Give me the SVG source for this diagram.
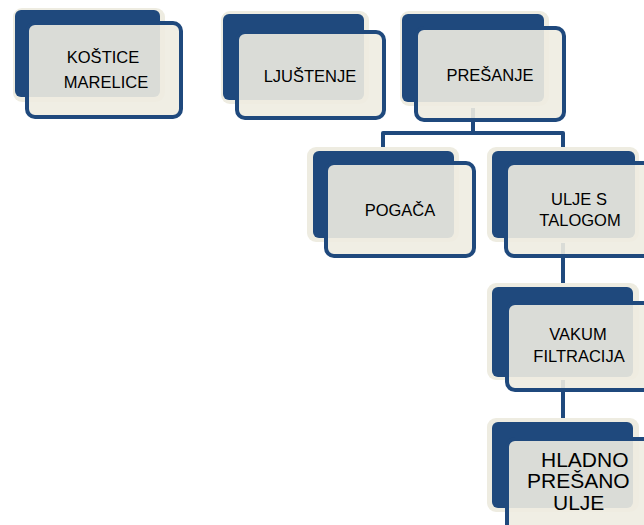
<svg xmlns="http://www.w3.org/2000/svg" width="644" height="525" viewBox="0 0 644 525">
<style>
.bg{fill:#EEECE1}
.back{fill:#1F497D}
.front{fill:#EEECE1;fill-opacity:0.9;stroke:#1F497D;stroke-width:4}
.conn{fill:none;stroke:#1F497D;stroke-width:4;stroke-linejoin:round}
text{font-family:"Liberation Sans",Arial,sans-serif;font-size:16.5px;fill:#000;text-anchor:middle}
.big{font-size:21px;text-anchor:start}
</style>
<rect width="644" height="525" fill="#fff"/>
<g id="connectors">
<path class="conn" d="M473,108 V133 M383,150 V133 H563 V152"/>
<path class="conn" d="M563,243 V290"/>
<path class="conn" d="M563,380 V425"/>
</g>
<g id="n1">
<rect class="bg" x="13" y="8" width="152" height="94" rx="9"/>
<rect class="back" x="15" y="10" width="145" height="87" rx="6"/>
<rect class="front" x="27" y="23" width="154" height="94" rx="8"/>
<text x="103" y="63">KOŠTICE</text>
<text x="106" y="88">MARELICE</text>
</g>
<g id="n2">
<rect class="bg" x="221" y="11" width="148" height="93" rx="9"/>
<rect class="back" x="223" y="14" width="141" height="86" rx="6"/>
<rect class="front" x="237" y="32" width="147" height="86" rx="8"/>
<text x="310" y="82">LJUŠTENJE</text>
</g>
<g id="n3">
<rect class="bg" x="400" y="11" width="149" height="95" rx="9"/>
<rect class="back" x="402" y="14" width="142" height="88" rx="6"/>
<rect class="front" x="416" y="28" width="148" height="92" rx="8"/>
<text x="490" y="81">PREŠANJE</text>
</g>
<g id="n4">
<rect class="bg" x="307" y="147" width="152" height="95" rx="9"/>
<rect class="back" x="313" y="151" width="141" height="87" rx="6"/>
<rect class="front" x="326" y="163" width="148" height="93" rx="8"/>
<text x="400" y="216">POGAČA</text>
</g>
<g id="n5">
<rect class="bg" x="487" y="147" width="152" height="95" rx="9"/>
<rect class="back" x="492" y="151" width="143" height="87" rx="6"/>
<rect class="front" x="506" y="163" width="150" height="93" rx="8"/>
<text x="579" y="205">ULJE S</text>
<text x="580" y="226">TALOGOM</text>
</g>
<g id="n6">
<rect class="bg" x="487" y="283" width="152" height="97" rx="9"/>
<rect class="back" x="492" y="287" width="141" height="90" rx="6"/>
<rect class="front" x="507" y="303" width="150" height="87" rx="8"/>
<text x="578" y="340">VAKUM</text>
<text x="579" y="362">FILTRACIJA</text>
</g>
<g id="n7">
<rect class="bg" x="487" y="418" width="152" height="94" rx="9"/>
<rect class="back" x="492" y="422" width="141" height="86" rx="6"/>
<rect class="front" x="507" y="439" width="150" height="100" rx="8"/>
<text class="big" x="541" y="467">HLADNO</text>
<text class="big" x="527" y="488">PREŠANO</text>
<text class="big" x="553" y="510">ULJE</text>
</g>
</svg>
